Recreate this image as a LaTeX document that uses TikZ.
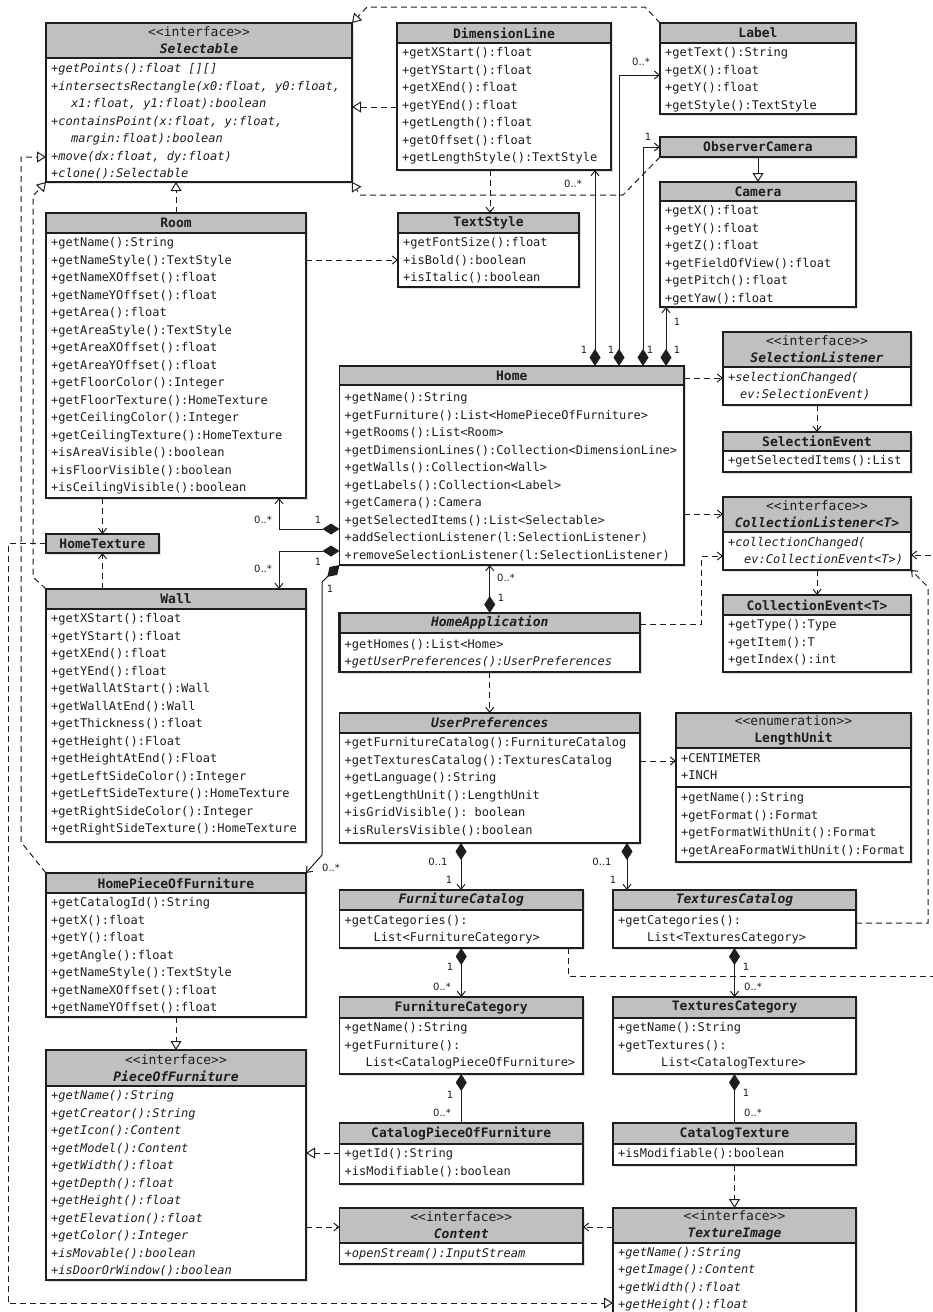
\documentclass[tikz,border=0pt]{standalone}
\usepackage{fontspec}
\setmonofont{DejaVu Sans Mono}
\setsansfont{DejaVu Sans}
\usetikzlibrary{arrows.meta,shadows}

\definecolor{headgray}{RGB}{192,192,192}
\definecolor{umlink}{RGB}{30,30,30}

\newcommand{\memfont}{\ttfamily\fontsize{12}{17.5}\selectfont}
\newcommand{\headfont}{\ttfamily\fontsize{13}{17}\selectfont}
\newcommand{\multfont}{\sffamily\fontsize{10}{12}\selectfont}

\tikzset{
  classbox/.style={fill=white, inner sep=0pt, outer sep=0pt,
    drop shadow={opacity=0.25, shadow xshift=2pt, shadow yshift=-2pt}},
  headtext/.style={font=\headfont, align=center, inner sep=0pt, text=umlink},
  member/.style={anchor=base west, inner sep=0pt, font=\memfont, text=umlink},
  imember/.style={member, font=\memfont\itshape},
  mult/.style={font=\multfont, inner sep=0pt, text=umlink},
  conn/.style={umlink, line width=1pt},
  dep/.style={conn, dash pattern=on 6pt off 4pt, -{Straight Barb[length=5pt,width=8pt]}},
  real/.style={conn, dash pattern=on 6pt off 4pt, -{Triangle[open,length=9pt,width=11pt,fill=white]}},
  gen/.style={conn, -{Triangle[open,length=9pt,width=11pt,fill=white]}},
  comp/.style={conn, {Diamond[length=17pt,width=11pt]}-{Straight Barb[length=5pt,width=8pt]}},
  compline/.style={conn, {Diamond[length=17pt,width=11pt]}-},
}

% class box: name, left, top, right, header bottom, bottom, header text
\newcommand{\umlclass}[7]{%
  \node[classbox, minimum width={(#4-#2)*1pt}, minimum height={(#6-#3)*1pt}] (#1) at ({(#2+#4)/2},{(#3+#6)/2}) {};
  \fill[headgray] (#1.north west) rectangle (#4,#5);
  \draw[umlink, line width=1.2pt] (#1.north west) rectangle (#1.south east) (#2,#5) -- (#4,#5);
  \node[headtext] (#1-head) at ({(#2+#4)/2},{(#3+#5)/2}) {#7};
}
% member lines: style, prefix, x, first baseline, lines
\newcommand{\members}[5][member]{%
  \foreach \m [count=\i from 0] in {#5}
    \node[#1] (#2-\i) at (#3,{#4+\i*17.5}) {\m};
}

\begin{document}
\begin{tikzpicture}[x=1pt, y=-1pt]
  \useasboundingbox (0,0) rectangle (933,1312);
  \fill[white] (0,0) rectangle (933,1312);

  % top row
  \umlclass{selectable}{46}{23}{352}{58}{182}{<<interface>>\\{\bfseries\itshape Selectable}}
  \members[imember]{selectable}{51}{72.5}{{+getPoints():float [][]}, {+intersectsRectangle(x0:float, y0:float,}, {\hspace*{20pt}x1:float, y1:float):boolean}, {+containsPoint(x:float, y:float,}, {\hspace*{20pt}margin:float):boolean}, {+move(dx:float, dy:float)}, {+clone():Selectable}}

  \umlclass{dimline}{397}{23}{611}{43}{170}{\bfseries DimensionLine}
  \members{dimline}{402}{56.5}{+getXStart():float, +getYStart():float, +getXEnd():float, +getYEnd():float, +getLength():float, +getOffset():float, +getLengthStyle():TextStyle}

  \umlclass{label}{660}{23}{856}{43}{114}{\bfseries Label}
  \members{label}{665}{56.5}{+getText():String, +getX():float, +getY():float, +getStyle():TextStyle}

  \umlclass{obscam}{660}{137}{856}{157}{157}{\bfseries ObserverCamera}

  \umlclass{camera}{660}{182}{856}{201}{307}{\bfseries Camera}
  \members{camera}{665}{214.5}{+getX():float, +getY():float, +getZ():float, +getFieldOfView():float, +getPitch():float, +getYaw():float}

  \umlclass{textstyle}{398}{213}{579}{233}{287}{\bfseries TextStyle}
  \members{textstyle}{403}{246.5}{+getFontSize():float, +isBold():boolean, +isItalic():boolean}

  % left column
  \umlclass{room}{46}{213}{306}{233}{498}{\bfseries Room}
  \members{room}{51}{246.5}{+getName():String, +getNameStyle():TextStyle, +getNameXOffset():float, +getNameYOffset():float, +getArea():float, +getAreaStyle():TextStyle, +getAreaXOffset():float, +getAreaYOffset():float, +getFloorColor():Integer, +getFloorTexture():HomeTexture, +getCeilingColor():Integer, +getCeilingTexture():HomeTexture, +isAreaVisible():boolean, +isFloorVisible():boolean, +isCeilingVisible():boolean}

  \umlclass{hometex}{46}{534}{159}{553}{553}{\bfseries HomeTexture}

  \umlclass{wall}{46}{589}{306}{609}{842}{\bfseries Wall}
  \members{wall}{51}{622.5}{+getXStart():float, +getYStart():float, +getXEnd():float, +getYEnd():float, +getWallAtStart():Wall, +getWallAtEnd():Wall, +getThickness():float, +getHeight():Float, +getHeightAtEnd():Float, +getLeftSideColor():Integer, +getLeftSideTexture():HomeTexture, +getRightSideColor():Integer, +getRightSideTexture():HomeTexture}

  \umlclass{hpof}{46}{873}{306}{893}{1017}{\bfseries HomePieceOfFurniture}
  \members{hpof}{51}{906.5}{+getCatalogId():String, +getX():float, +getY():float, +getAngle():float, +getNameStyle():TextStyle, +getNameXOffset():float, +getNameYOffset():float}

  \umlclass{pof}{46}{1050}{306}{1086}{1280}{<<interface>>\\{\bfseries\itshape PieceOfFurniture}}
  \members[imember]{pof}{51}{1099.5}{+getName():String, +getCreator():String, +getIcon():Content, +getModel():Content, +getWidth():float, +getDepth():float, +getHeight():float, +getElevation():float, +getColor():Integer, +isMovable():boolean, +isDoorOrWindow():boolean}

  % middle column
  \umlclass{home}{339.5}{366}{684}{385}{565}{\bfseries Home}
  \members{home}{344.5}{401.5}{+getName():String, +getFurniture():List<HomePieceOfFurniture>, +getRooms():List<Room>, +getDimensionLines():Collection<DimensionLine>, +getWalls():Collection<Wall>, +getLabels():Collection<Label>, +getCamera():Camera, +getSelectedItems():List<Selectable>, {+addSelectionListener(l:SelectionListener)}, {+removeSelectionListener(l:SelectionListener)}}

  \umlclass{homeapp}{339.5}{613}{640}{633}{672}{\bfseries\itshape HomeApplication}
  \draw[umlink, line width=2.6pt] (homeapp.north west) rectangle (homeapp.south east) (339.5,633) -- (640,633);
  \members{homeapp}{344.5}{648}{+getHomes():List<Home>, {\itshape +getUserPreferences():UserPreferences}}

  \umlclass{userpref}{339.5}{713}{640}{733}{843}{\bfseries\itshape UserPreferences}
  \members{userpref}{344.5}{746.5}{+getFurnitureCatalog():FurnitureCatalog, +getTexturesCatalog():TexturesCatalog, +getLanguage():String, +getLengthUnit():LengthUnit, {+isGridVisible(): boolean}, +isRulersVisible():boolean}

  \umlclass{furncat}{339.5}{890}{583}{910}{948}{\bfseries\itshape FurnitureCatalog}
  \members{furncat}{344.5}{924}{+getCategories():, {\hspace*{29pt}List<FurnitureCategory>}}

  \umlclass{furncateg}{339.5}{997}{583}{1018}{1074}{\bfseries FurnitureCategory}
  \members{furncateg}{344.5}{1031.5}{+getName():String, +getFurniture():, {\hspace*{21pt}List<CatalogPieceOfFurniture>}}

  \umlclass{catpof}{339.5}{1123}{583}{1144}{1184}{\bfseries CatalogPieceOfFurniture}
  \members{catpof}{344.5}{1157.5}{+getId():String, +isModifiable():boolean}

  \umlclass{content}{339.5}{1208}{583}{1243}{1264}{<<interface>>\\{\bfseries\itshape Content}}
  \members[imember]{content}{344.5}{1257}{+openStream():InputStream}

  % right column
  \umlclass{sellist}{723}{332}{911}{367}{405}{<<interface>>\\{\bfseries\itshape SelectionListener}}
  \members[imember]{sellist}{728}{381}{{+selectionChanged(}, {\hspace*{12pt}ev:SelectionEvent)}}

  \umlclass{selevent}{723}{432}{911}{451}{472}{\bfseries SelectionEvent}
  \members{selevent}{728}{464.5}{+getSelectedItems():List}

  \umlclass{collist}{723}{497}{911}{532}{570}{<<interface>>\\{\bfseries\itshape CollectionListener<T>}}
  \members[imember]{collist}{728}{546}{{+collectionChanged(}, {\hspace*{16pt}ev:CollectionEvent<T>)}}

  \umlclass{colevent}{723}{595}{911}{615}{672}{\bfseries CollectionEvent<T>}
  \members{colevent}{728}{628.5}{+getType():Type, +getItem():T, +getIndex():int}

  \umlclass{lengthunit}{676}{713}{911}{748}{862}{<<enumeration>>\\{\bfseries LengthUnit}}
  \draw[umlink, line width=1.2pt] (676,787) -- (911,787);
  \members{lenlit}{681}{762}{+CENTIMETER, +INCH}
  \members{lenop}{681}{801.5}{+getName():String, +getFormat():Format, +getFormatWithUnit():Format, +getAreaFormatWithUnit():Format}

  \umlclass{texcat}{613}{890}{856}{910}{948}{\bfseries\itshape TexturesCatalog}
  \members{texcat}{618}{924}{+getCategories():, {\hspace*{29pt}List<TexturesCategory>}}

  \umlclass{texcateg}{613}{997}{856}{1018}{1074}{\bfseries TexturesCategory}
  \members{texcateg}{618}{1031.5}{+getName():String, +getTextures():, {\hspace*{43pt}List<CatalogTexture>}}

  \umlclass{cattex}{613}{1123}{856}{1144}{1165}{\bfseries CatalogTexture}
  \members{cattex}{618}{1157.5}{+isModifiable():boolean}

  \umlclass{teximage}{613}{1208}{856}{1243}{1330}{<<interface>>\\{\bfseries\itshape TextureImage}}
  \members[imember]{teximage}{618}{1256}{+getName():String, +getImage():Content, +getWidth():float, +getHeight():float}

  % realizations
  \draw[real] (dimline.west |- 0,107) -- (selectable.east |- 0,107);
  \draw[real] (label.north west) -- (645,7) -- (367,7) -- (selectable.north east);
  \draw[real] (obscam.south west) -- (623,195) -- (360,195) -- (selectable.south east);
  \draw[real] (room.north) -- (selectable.south -| room.north);
  \draw[real] (wall.north west) -- (33,577) -- (33,196) -- (selectable.south west);
  \draw[real] (hpof.north west) -- (21,842) -- (21,157) -- (selectable.west |- 0,157);
  \draw[real] (hometex.west) -| (8,1303) -- (teximage.west |- 0,1303);
  \draw[real] (hpof.south) -- (pof.north);
  \draw[real] (catpof.west |- 0,1153) -- (pof.east |- 0,1153);
  \draw[real] (cattex.south) -- (teximage.north);
  \draw[gen] (obscam.south) -- (camera.north);

  % dependencies
  \draw[dep] (room.east |- 0,260) -- (textstyle.west |- 0,260);
  \draw[dep] (dimline.south -| 490,0) -- (textstyle.north -| 490,0);
  \draw[dep] (room.south -| hometex.north) -- (hometex.north);
  \draw[dep] (wall.north -| hometex.south) -- (hometex.south);
  \draw[dep] (home.east |- 0,378) -- (sellist.west |- 0,378);
  \draw[dep] (sellist.south) -- (selevent.north);
  \draw[dep] (home.east |- 0,514) -- (collist.west |- 0,514);
  \draw[dep] (collist.south) -- (colevent.north);
  \draw[dep] (homeapp.east |- 0,624) -| (701.5,556) -- (collist.west |- 0,556);
  \draw[dep] (texcat.east |- 0,923) -| (928,587) -- (collist.south east);
  \draw[dep] (furncat.south -| 568,0) |- (945,976) |- (collist.east |- 0,555);
  \draw[dep] (homeapp.south) -- (userpref.north);
  \draw[dep] (userpref.east |- 0,761) -- (lengthunit.west |- 0,761);
  \draw[dep] (pof.east |- 0,1227) -- (content.west |- 0,1227);
  \draw[dep] (teximage.west |- 0,1227) -- (content.east |- 0,1227);

  % compositions
  \draw[comp] (home.north -| 595,0) -- (dimline.south -| 595,0);
  \draw[comp] (home.north -| 619,0) |- (label.west |- 0,75);
  \draw[comp] (home.north -| 643,0) |- (obscam.west);
  \draw[comp] (home.north -| 666,0) -- (camera.south -| 666,0);
  \draw[comp] (home.west |- 0,529) -| (room.south -| 279,0);
  \draw[comp] (home.west |- 0,551) -| (wall.north -| 279,0);
  \draw[comp] (home.south west) -- (322,582) -- (322,855) -- (hpof.north east);
  \draw[comp] (homeapp.north) -- (home.south -| homeapp.north);
  \draw[comp] (userpref.south -| 461,0) -- (furncat.north -| 461,0);
  \draw[comp] (userpref.south -| 627,0) -- (texcat.north -| 627,0);
  \draw[comp] (furncat.south) -- (furncateg.north);
  \draw[comp] (texcat.south) -- (texcateg.north);
  \draw[compline] (furncateg.south) -- (catpof.north);
  \draw[compline] (texcateg.south) -- (cattex.north);

  % multiplicities
  \node[mult] (m-dl-a) at (584,350) {1};
  \node[mult] (m-dl-b) at (573,184) {0..*};
  \node[mult] (m-lb-a) at (611,350) {1};
  \node[mult] (m-lb-b) at (641,62) {0..*};
  \node[mult] (m-oc-a) at (650,350) {1};
  \node[mult] (m-oc-b) at (648,137) {1};
  \node[mult] (m-ca-a) at (677,350) {1};
  \node[mult] (m-ca-b) at (677,322) {1};
  \node[mult] (m-ro-a) at (318,520) {1};
  \node[mult] (m-ro-b) at (263,520) {0..*};
  \node[mult] (m-wa-a) at (318,562) {1};
  \node[mult] (m-wa-b) at (263,569) {0..*};
  \node[mult] (m-hp-a) at (330,589) {1};
  \node[mult] (m-hp-b) at (331,868) {0..*};
  \node[mult] (m-ha-a) at (501,598) {1};
  \node[mult] (m-ha-b) at (506,578) {0..*};
  \node[mult] (m-fc-a) at (438,862) {0..1};
  \node[mult] (m-fc-b) at (449,880) {1};
  \node[mult] (m-tc-a) at (602,862) {0..1};
  \node[mult] (m-tc-b) at (613,880) {1};
  \node[mult] (m-fg-a) at (450,967) {1};
  \node[mult] (m-fg-b) at (442,987) {0..*};
  \node[mult] (m-tg-a) at (746,967) {1};
  \node[mult] (m-tg-b) at (753,987) {0..*};
  \node[mult] (m-cp-a) at (450,1095) {1};
  \node[mult] (m-cp-b) at (442,1113) {0..*};
  \node[mult] (m-ct-a) at (746,1093) {1};
  \node[mult] (m-ct-b) at (753,1113) {0..*};
\end{tikzpicture}
\end{document}
